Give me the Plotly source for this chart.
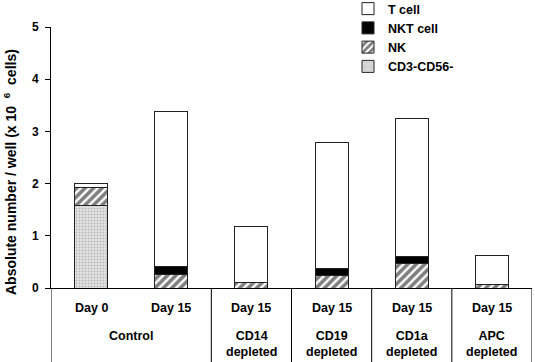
import plotly.graph_objects as go

days = ["Day 0", "Day 15", "Day 15", "Day 15", "Day 15", "Day 15"]
groups = ["Control", "CD14<br>depleted", "CD19<br>depleted", "CD1a<br>depleted", "APC<br>depleted"]
group_pos = [0.5, 2, 3, 4, 5]
cd3_cd56 = [1.58, 0, 0, 0, 0, 0]
nk = [0.34, 0.26, 0.11, 0.24, 0.46, 0.06]
nkt = [0.0, 0.15, 0.0, 0.14, 0.14, 0.0]
tcell = [0.09, 2.97, 1.06, 2.40, 2.64, 0.57]
yticks = [0, 1, 2, 3, 4, 5]

x = list(range(len(days)))
FONT = "Liberation Sans, Arial, sans-serif"
line = dict(color="#222222", width=1)

fig = go.Figure()
fig.add_bar(x=x, y=cd3_cd56, name="CD3-CD56-",
            marker=dict(color="#d9d9d9", line=line,
                        pattern=dict(shape=".", fgcolor="#8c8c8c", bgcolor="#e3e3e3", size=3, solidity=0.35)))
fig.add_bar(x=x, y=nk, name="NK",
            marker=dict(color="white", line=line,
                        pattern=dict(shape="/", fgcolor="black", bgcolor="white", size=6, solidity=0.6)))
fig.add_bar(x=x, y=nkt, name="NKT cell", marker=dict(color="black", line=line))
fig.add_bar(x=x, y=tcell, name="T cell", marker=dict(color="white", line=line))

L, R, T, B = 51, 3, 27, 74
W, H = 535 - L - R, 362 - T - B
fig.update_layout(
    width=535, height=362, barmode="stack", bargap=0.59,
    margin=dict(l=L, r=R, t=T, b=B, autoexpand=False),
    plot_bgcolor="white", paper_bgcolor="white",
    font=dict(family=FONT, size=12, color="black", weight="bold"),
    legend=dict(xref="container", yref="paper", x=348 / 535, y=1 + (T + 6) / H,
                xanchor="left", yanchor="top", traceorder="reversed",
                font=dict(size=12.5, weight="bold"), itemwidth=30, tracegroupgap=0,
                bgcolor="rgba(0,0,0,0)"),
    showlegend=True,
)
fig.update_xaxes(range=[-0.5, 5.5], showticklabels=False, ticks="", showline=True, automargin=False,
                 linecolor="black", linewidth=1, showgrid=False, zeroline=False)
fig.update_yaxes(range=[0, 5], tickvals=yticks, ticks="outside", ticklen=5, tickcolor="black",
                 showline=True, linecolor="black", linewidth=1, showgrid=False, zeroline=False,
                 automargin=False, ticklabelstandoff=4,
                 tickfont=dict(size=12, weight="bold"))

fig.add_annotation(x=(10 - L) / W, y=(288 - 172) / H, xref="paper", yref="paper",
                   text="Absolute number / well (x 10&nbsp;&nbsp;<sup>6</sup>&nbsp;&nbsp;cells)",
                   textangle=-90, showarrow=False, xanchor="center", yanchor="middle",
                   font=dict(size=14, weight="bold"))

# divider lines of the category table
for xv in [-0.5, 1.5, 2.5, 3.5, 4.5, 5.5]:
    fig.add_shape(type="line", xref="x", yref="paper", x0=xv, x1=xv, y0=0, y1=-B / H,
                  line=dict(color="black", width=1))

for xi, d in zip(x, days):
    fig.add_annotation(x=xi, y=-20 / H, xref="x", yref="paper", text=d, showarrow=False,
                       yanchor="middle", font=dict(size=12.5, weight="bold"))
for gp, g in zip(group_pos, groups):
    fig.add_annotation(x=gp, y=-39 / H, xref="x", yref="paper", text=g, showarrow=False,
                       yanchor="top", font=dict(size=12.5, weight="bold"))

fig.write_html("out.html", config={"displayModeBar": False},
               post_script="document.body.style.margin='0';")
